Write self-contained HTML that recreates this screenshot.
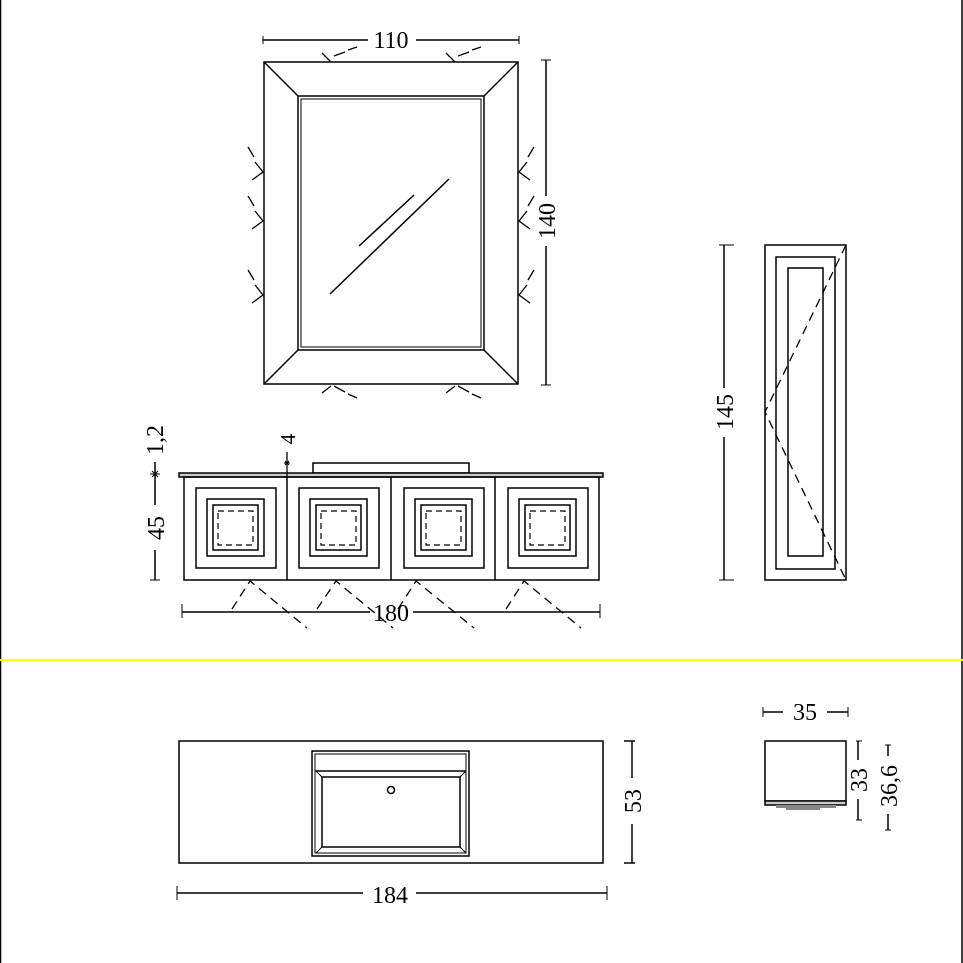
<!DOCTYPE html>
<html><head><meta charset="utf-8"><style>html,body{margin:0;padding:0;background:#fff}svg{display:block}</style></head><body>
<svg width="963" height="963" viewBox="0 0 963 963" xmlns="http://www.w3.org/2000/svg" font-family="Liberation Serif, serif" font-size="24" fill="none" stroke="#000" stroke-width="1.5">
<line x1="0.5" y1="0" x2="0.5" y2="963" stroke-width="1.5"/>
<line x1="962" y1="0" x2="962" y2="963" stroke-width="1.5"/>
<line x1="0" y1="660" x2="963" y2="660" stroke="#ffff00" stroke-width="2"/>

<!-- Mirror -->
<rect x="264" y="62" width="254" height="322"/>
<rect x="298" y="96" width="186" height="254"/>
<rect x="301" y="99" width="180" height="248" stroke-width="1"/>
<line x1="264" y1="62" x2="298" y2="96"/><line x1="518" y1="62" x2="484" y2="96"/>
<line x1="264" y1="384" x2="298" y2="350"/><line x1="518" y1="384" x2="484" y2="350"/>
<line x1="330" y1="294" x2="449" y2="179"/><line x1="359" y1="246" x2="414" y2="195"/>
<g stroke-width="1.3">
<path d="M322 53 L331 62 M334 56 L345 52 M348 50 L357 47"/>
<path d="M446 53 L455 62 M458 56 L469 52 M472 50 L481 47"/>
<path d="M322 393 L331 386 M334 386 L345 392 M348 394 L357 398"/>
<path d="M446 393 L455 386 M458 386 L469 392 M472 394 L481 398"/>
<path d="M248 147 L254 157 M255 162 L263 172 L252 180"/>
<path d="M248 196 L254 206 M255 211 L263 221 L252 229"/>
<path d="M248 270 L254 280 M255 285 L263 295 L252 303"/>
<path d="M534 147 L528 157 M527 162 L519 172 L530 180"/>
<path d="M534 196 L528 206 M527 211 L519 221 L530 229"/>
<path d="M534 270 L528 280 M527 285 L519 295 L530 303"/>
</g>
<line x1="263" y1="40" x2="368" y2="40"/><line x1="416" y1="40" x2="519" y2="40"/>
<path d="M263 36 L263 44 M519 36 L519 44" stroke-width="1"/>
<text x="391" y="48" fill="#000" stroke="none" text-anchor="middle">110</text>
<line x1="546" y1="60" x2="546" y2="196"/><line x1="546" y1="246" x2="546" y2="385"/>
<path d="M541 60 L551 60 M541 385 L551 385" stroke-width="1"/>
<text transform="translate(555,221) rotate(-90)" fill="#000" stroke="none" text-anchor="middle">140</text>

<!-- Tall cabinet -->
<rect x="765" y="245" width="81" height="335"/>
<rect x="776" y="257" width="59" height="312"/>
<rect x="788" y="268" width="35" height="288"/>
<path d="M846 245 L765 412 L846 580" stroke-dasharray="9,6" stroke-width="1.3"/>
<line x1="724" y1="245" x2="724" y2="388"/><line x1="724" y1="437" x2="724" y2="580"/>
<path d="M719 245 L734 245 M719 580 L734 580" stroke-width="1"/>
<text transform="translate(733,412) rotate(-90)" fill="#000" stroke="none" text-anchor="middle">145</text>

<!-- Vanity front -->
<rect x="313" y="463" width="156" height="10"/>
<rect x="179" y="473" width="424" height="4" fill="#ccc"/>
<rect x="184" y="477" width="415" height="103"/>
<line x1="287" y1="477" x2="287" y2="580"/><line x1="391" y1="477" x2="391" y2="580"/><line x1="495" y1="477" x2="495" y2="580"/>
<g>
<rect x="196" y="488" width="80" height="80"/><rect x="207" y="499" width="57" height="57"/><rect x="213" y="505" width="45" height="45"/><rect x="218" y="511" width="35" height="34" stroke-dasharray="6,4" stroke-width="1.2"/>
<rect x="299" y="488" width="80" height="80"/><rect x="310" y="499" width="57" height="57"/><rect x="316" y="505" width="45" height="45"/><rect x="321" y="511" width="35" height="34" stroke-dasharray="6,4" stroke-width="1.2"/>
<rect x="404" y="488" width="80" height="80"/><rect x="415" y="499" width="57" height="57"/><rect x="421" y="505" width="45" height="45"/><rect x="426" y="511" width="35" height="34" stroke-dasharray="6,4" stroke-width="1.2"/>
<rect x="508" y="488" width="80" height="80"/><rect x="519" y="499" width="57" height="57"/><rect x="525" y="505" width="45" height="45"/><rect x="530" y="511" width="35" height="34" stroke-dasharray="6,4" stroke-width="1.2"/>
</g>
<g stroke-dasharray="9,6" stroke-width="1.3">
<path d="M232 609 L250 581 L307 628"/>
<path d="M317 609 L336 581 L393 628"/>
<path d="M398 609 L416 581 L474 628"/>
<path d="M506 609 L524 581 L581 628"/>
</g>
<line x1="182" y1="612" x2="370" y2="612"/><line x1="413" y1="612" x2="600" y2="612"/>
<path d="M182 604 L182 618 M600 604 L600 618" stroke-width="1"/>
<text x="391" y="621" fill="#000" stroke="none" text-anchor="middle">180</text>
<line x1="155" y1="462" x2="155" y2="505"/><line x1="155" y1="550" x2="155" y2="580"/>
<path d="M150 474 L160 474 M150 580 L160 580 M152 471 L158 477 M152 477 L158 471" stroke-width="1"/>
<text transform="translate(164,528) rotate(-90)" fill="#000" stroke="none" text-anchor="middle">45</text>
<text transform="translate(163,440) rotate(-90)" fill="#000" stroke="none" text-anchor="middle">1,2</text>
<line x1="287" y1="452" x2="287" y2="477" stroke-width="1.3"/>
<path d="M284 463 L290 463 M285 461 L289 465 M285 465 L289 461" stroke-width="1"/>
<text transform="translate(295,439) rotate(-90)" fill="#000" stroke="none" text-anchor="middle" font-size="21">4</text>

<!-- Plan view -->
<rect x="179" y="741" width="424" height="122"/>
<rect x="312" y="751" width="157" height="105"/>
<rect x="315" y="754" width="151" height="99" stroke-width="1"/>
<line x1="315" y1="771" x2="466" y2="771"/>
<rect x="322" y="777" width="138" height="70"/>
<path d="M316 771 L322 777 M466 771 L460 777 M316 853 L322 847 M466 853 L460 847" stroke-width="1"/>
<circle cx="391" cy="790" r="3.5"/>
<line x1="624" y1="741" x2="635" y2="741"/><line x1="624" y1="863" x2="635" y2="863"/>
<line x1="632" y1="741" x2="632" y2="778"/><line x1="632" y1="824" x2="632" y2="863"/>
<text transform="translate(641,801) rotate(-90)" fill="#000" stroke="none" text-anchor="middle">53</text>
<line x1="177" y1="893" x2="363" y2="893"/><line x1="416" y1="893" x2="607" y2="893"/>
<path d="M177 886 L177 900 M607 886 L607 900" stroke-width="1"/>
<text x="390" y="903" fill="#000" stroke="none" text-anchor="middle">184</text>

<!-- Side view -->
<rect x="765" y="741" width="81" height="60"/>
<rect x="765" y="801" width="81" height="4" fill="#ccc"/>
<rect x="776" y="805" width="60" height="3" fill="#888" stroke="none"/>
<rect x="786" y="808" width="34" height="2" fill="#888" stroke="none"/>
<line x1="763" y1="712" x2="783" y2="712"/><line x1="827" y1="712" x2="848" y2="712"/>
<path d="M763 707 L763 717 M848 707 L848 717" stroke-width="1"/>
<text x="805" y="720" fill="#000" stroke="none" text-anchor="middle">35</text>
<line x1="858" y1="741" x2="858" y2="760"/><line x1="858" y1="799" x2="858" y2="820"/>
<path d="M856 741 L862 741 M856 820 L862 820" stroke-width="1"/>
<text transform="translate(867,780) rotate(-90)" fill="#000" stroke="none" text-anchor="middle">33</text>
<line x1="888" y1="745" x2="888" y2="756"/><line x1="888" y1="814" x2="888" y2="830"/>
<path d="M885 745 L891 745 M885 830 L891 830" stroke-width="1"/>
<text transform="translate(897,786) rotate(-90)" fill="#000" stroke="none" text-anchor="middle">36,6</text>
</svg>
</body></html>
